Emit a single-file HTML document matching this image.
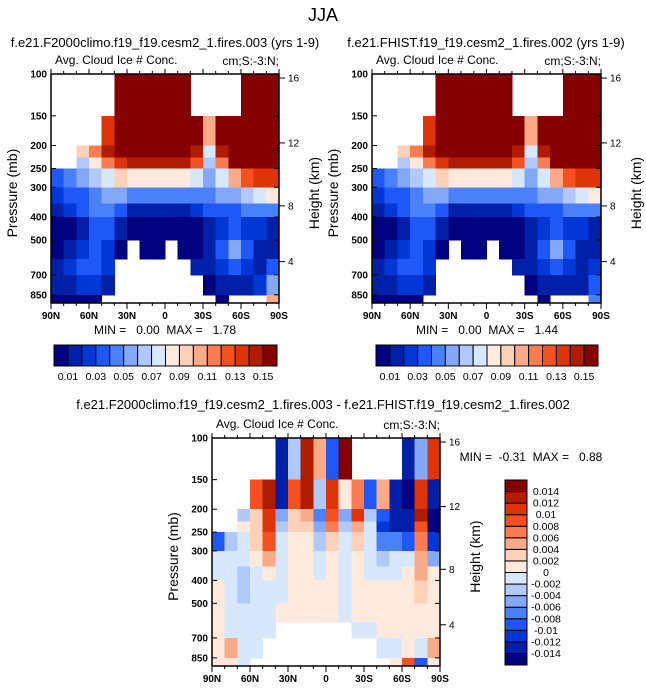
<!DOCTYPE html>
<html><head><meta charset="utf-8">
<style>
html,body{margin:0;padding:0;background:#fff;}
svg{display:block;font-family:"Liberation Sans",sans-serif;}
.pre{white-space:pre;}
</style></head>
<body>
<svg id="fig" width="646" height="691" viewBox="0 0 646 691" xmlns="http://www.w3.org/2000/svg">
<text x="323" y="21" font-size="18" text-anchor="middle">JJA</text>
<text x="165" y="47" font-size="13" text-anchor="middle">f.e21.F2000climo.f19_f19.cesm2_1.fires.003 (yrs 1-9)</text>
<text x="486" y="47" font-size="13" text-anchor="middle">f.e21.FHIST.f19_f19.cesm2_1.fires.002 (yrs 1-9)</text>
<text x="323" y="409" font-size="13" text-anchor="middle">f.e21.F2000climo.f19_f19.cesm2_1.fires.003 - f.e21.FHIST.f19_f19.cesm2_1.fires.002</text>
<g id="panels"></g>
</svg>
<script>
// ---- data ----
const pEdges = [100,150,200,225,250,300,350,400,500,600,700,850,920];
const latEdges = [90,80,70,60,50,40,30,20,10,0,-10,-20,-30,-40,-50,-60,-70,-80,-90];
const pressureTicks = [100,150,200,250,300,400,500,700,850];
const heightTicks = [16,12,8,4];
const heightTickP = [104,195,359,616];
const latTicks = [90,60,30,0,-30,-60,-90];
const latTickLabels = ["90N","60N","30N","0","30S","60S","90S"];
const absLevels = ["0.01","0.03","0.05","0.07","0.09","0.11","0.13","0.15"];
const diffLevels = ["0.014","0.012","0.01","0.008","0.006","0.004","0.002","0","-0.002","-0.004","-0.006","-0.008","-0.01","-0.012","-0.014"];
const palette = ["#000080","#0020a8","#0038d8","#1f58f8","#4a80f8","#84a8f8","#b0c8fa","#d8e8fc","#feeadc","#fdd0b8","#fbaa88","#fa7c50","#f55020","#de3408","#b01c00","#860000"];
// color-class grids (rows = pressure bands, cols = latitude bands), -1 = missing
const gridCtl = [
[-1,-1,-1,-1,-1,15,15,15,15,15,15,-1,-1,-1,-1,15,15,15],
[-1,-1,-1,-1,13,15,15,15,15,15,15,15,10,15,15,15,15,15],
[-1,-1,9,11,14,15,15,15,15,15,15,14,7,14,15,15,15,15],
[-1,-1,6,8,11,13,14,14,14,14,14,12,6,11,15,15,15,15],
[3,4,5,6,7,9,8,8,8,8,8,7,5,7,10,12,13,13],
[2,3,3,4,5,5,4,4,4,4,4,4,4,5,5,6,7,8],
[1,2,3,4,4,3,1,1,1,1,1,2,3,3,3,4,4,4],
[0,0,1,3,3,1,0,0,0,0,0,0,1,2,3,2,2,1],
[0,1,2,3,2,0,-1,0,0,-1,0,0,1,3,5,3,1,1],
[1,2,3,3,2,-1,-1,-1,-1,-1,-1,1,1,2,3,2,1,3],
[1,1,2,2,1,-1,-1,-1,-1,-1,-1,-1,0,1,1,1,2,5],
[0,0,0,0,-1,-1,-1,-1,-1,-1,-1,-1,-1,0,-1,-1,-1,10]];
const gridHist = [
[-1,-1,-1,-1,-1,15,15,15,15,15,15,-1,-1,-1,-1,15,15,15],
[-1,-1,-1,-1,13,15,15,15,15,15,15,15,10,15,15,15,15,15],
[-1,-1,9,11,14,15,15,15,15,15,15,14,7,14,15,15,15,15],
[-1,-1,6,8,11,13,14,14,14,14,14,12,6,11,15,15,15,15],
[3,4,5,6,7,9,8,8,8,8,8,7,5,7,10,12,13,13],
[2,3,3,4,5,5,4,4,4,4,4,4,4,5,5,6,7,8],
[1,2,3,4,4,3,1,1,1,1,1,2,3,3,3,4,4,4],
[0,0,1,3,3,1,0,0,0,0,0,0,1,2,3,2,2,1],
[0,1,2,3,2,0,-1,0,0,-1,0,0,1,3,5,3,1,1],
[1,2,3,3,2,-1,-1,-1,-1,-1,-1,1,1,2,3,2,1,2],
[1,1,2,2,1,-1,-1,-1,-1,-1,-1,-1,0,1,1,1,1,3],
[0,0,0,0,-1,-1,-1,-1,-1,-1,-1,-1,-1,0,-1,-1,-1,4]];
const gridDiff = [
[-1,-1,-1,-1,-1,1,6,14,10,3,15,-1,-1,-1,-1,1,5,13],
[-1,-1,-1,12,14,1,12,14,6,13,8,11,3,10,1,0,13,1],
[-1,-1,6,9,13,5,9,10,4,12,5,13,6,3,1,1,14,0],
[-1,-1,8,9,13,6,9,9,5,11,6,10,7,2,1,1,12,0],
[3,6,7,9,12,7,8,8,6,9,7,9,7,4,4,3,11,2],
[7,7,7,8,10,7,8,8,7,8,7,8,7,6,7,7,10,5],
[7,7,6,7,8,7,8,8,7,8,7,8,7,7,7,8,10,8],
[8,7,6,7,7,7,8,8,8,8,7,8,8,8,8,8,9,8],
[8,7,7,7,7,8,8,8,8,8,7,8,8,8,8,8,8,8],
[8,7,7,7,7,-1,-1,-1,-1,-1,-1,7,7,8,8,8,8,8],
[8,10,7,7,-1,-1,-1,-1,-1,-1,-1,-1,-1,7,7,8,7,10],
[8,8,7,-1,-1,-1,-1,-1,-1,-1,-1,-1,-1,-1,8,12,3,8]];

const NS="http://www.w3.org/2000/svg";
const root=document.getElementById('panels');
function mk(tag,attrs,parent){const e=document.createElementNS(NS,tag);for(const k in attrs)e.setAttribute(k,attrs[k]);(parent||root).appendChild(e);return e;}
function txt(x,y,s,size,anchor,parent,extra){const t=mk('text',Object.assign({x:x,y:y,'font-size':size,'text-anchor':anchor||'start'},extra||{}),parent);t.textContent=s;return t;}

function panel(grid,x0,y0,w,h,opts){
  const g=mk('g',{});
  
  
  const xS=lat=>x0+(90-lat)/180*w;
  const yS=p=>y0+h*Math.log10(p/100)/Math.log10(920/100);
  const cells=mk('g',{'shape-rendering':'crispEdges'},g);
  
  
  for(let r=0;r<grid.length;r++){for(let c=0;c<grid[r].length;c++){
    const v=grid[r][c]; if(v<0) continue;
    const xa=xS(latEdges[c]),xb=xS(latEdges[c+1]),ya=yS(pEdges[r]),yb=yS(pEdges[r+1]);
    const rc=mk('rect',{x:xa,y:ya,width:xb-xa+0.5,height:yb-ya+0.5,fill:palette[v]},cells);
    
    
  }}
  const fr=mk('rect',{x:x0,y:y0,width:w,height:h,fill:'none',stroke:'#000','stroke-width':1.5},g);
  
  
  pressureTicks.forEach(p=>{const y=yS(p);
    mk('line',{x1:x0,x2:x0+5,y1:y,y2:y,stroke:'#000'},g);
    mk('line',{x1:x0+w,x2:x0+w-5,y1:y,y2:y,stroke:'#000'},g);
    const t=txt(x0-4,y+3.5,String(p),10,'end',g,{'font-weight':'bold'});
    
    
  });
  heightTickP.forEach((p,i)=>{const y=yS(p);
    mk('line',{x1:x0+w,x2:x0+w+6,y1:y,y2:y,stroke:'#000'},g);
    const t=txt(x0+w+9,y+3.5,String(heightTicks[i]),10,'start',g);
    
    
  });
  for(let l=90;l>=-90;l-=10){const x=xS(l);const major=(l%30===0);
    mk('line',{x1:x,x2:x,y1:y0+h,y2:y0+h+(major?6:3),stroke:'#000'},g);
    mk('line',{x1:x,x2:x,y1:y0,y2:y0-(major?5:3),stroke:'#000'},g);}
  latTicks.forEach((l,i)=>{const t=txt(xS(l),y0+h+16,latTickLabels[i],10,'middle',g,{'font-weight':'bold'});
    
    });
  const a=txt(x0+4,y0-10,'Avg. Cloud Ice # Conc.',12,'start',g);
  
  
  const u=txt(x0+w,y0-9,'cm;S:-3:N;',12,'end',g);
  
  
  const cy=y0+h*0.52;
  const pl=txt(x0-34,cy,'Pressure (mb)',14,'middle',g,{transform:`rotate(-90 ${x0-34} ${cy})`});
  
  
  const hx=x0+w+40;
  const hl=txt(hx,cy,'Height (km)',14,'middle',g,{transform:`rotate(-90 ${hx} ${cy})`});
  
  
}

function hbar(x0,y0,w,h,labels){
  const g=mk('g',{});
  
  
  const bw=w/16;
  palette.forEach((c,i)=>{const r=mk('rect',{x:x0+i*bw,y:y0,width:bw,height:h,fill:c,stroke:'#000','stroke-width':1},g);
    
    });
  labels.forEach((s,i)=>{const t=txt(x0+(2*i+1)*bw,y0+h+14,s,10.5,'middle',g);
    
    });
}
function vbar(x0,y0,w,h,labels){
  const g=mk('g',{});
  
  
  const bh=h/16;
  palette.forEach((c,i)=>{const r=mk('rect',{x:x0,y:y0+(15-i)*bh,width:w,height:bh,fill:c,stroke:'#000','stroke-width':1},g);
    
    });
  labels.forEach((s,i)=>{const t=txt(x0+w+19,y0+(i+1)*bh+3.5,s,10.5,'middle',g);
    
    });
}

panel(gridCtl,51,74,228,229,{name:'control-panel'});
panel(gridHist,372,74,229,229,{name:'hist-panel'});
panel(gridDiff,212,438,228,228,{name:'difference-panel'});
hbar(54,345,223,21,absLevels);
hbar(376,345,222,21,absLevels);
vbar(505,480,22,185,diffLevels);
let m;
m=txt(165,334,'MIN =   0.00  MAX =   1.78',12,'middle',root,{'class':'pre'});


m=txt(487,334,'MIN =   0.00  MAX =   1.44',12,'middle',root,{'class':'pre'});


m=txt(531,461,'MIN =  -0.31  MAX =   0.88',12,'middle',root,{'class':'pre'});


</script>
</body></html>
